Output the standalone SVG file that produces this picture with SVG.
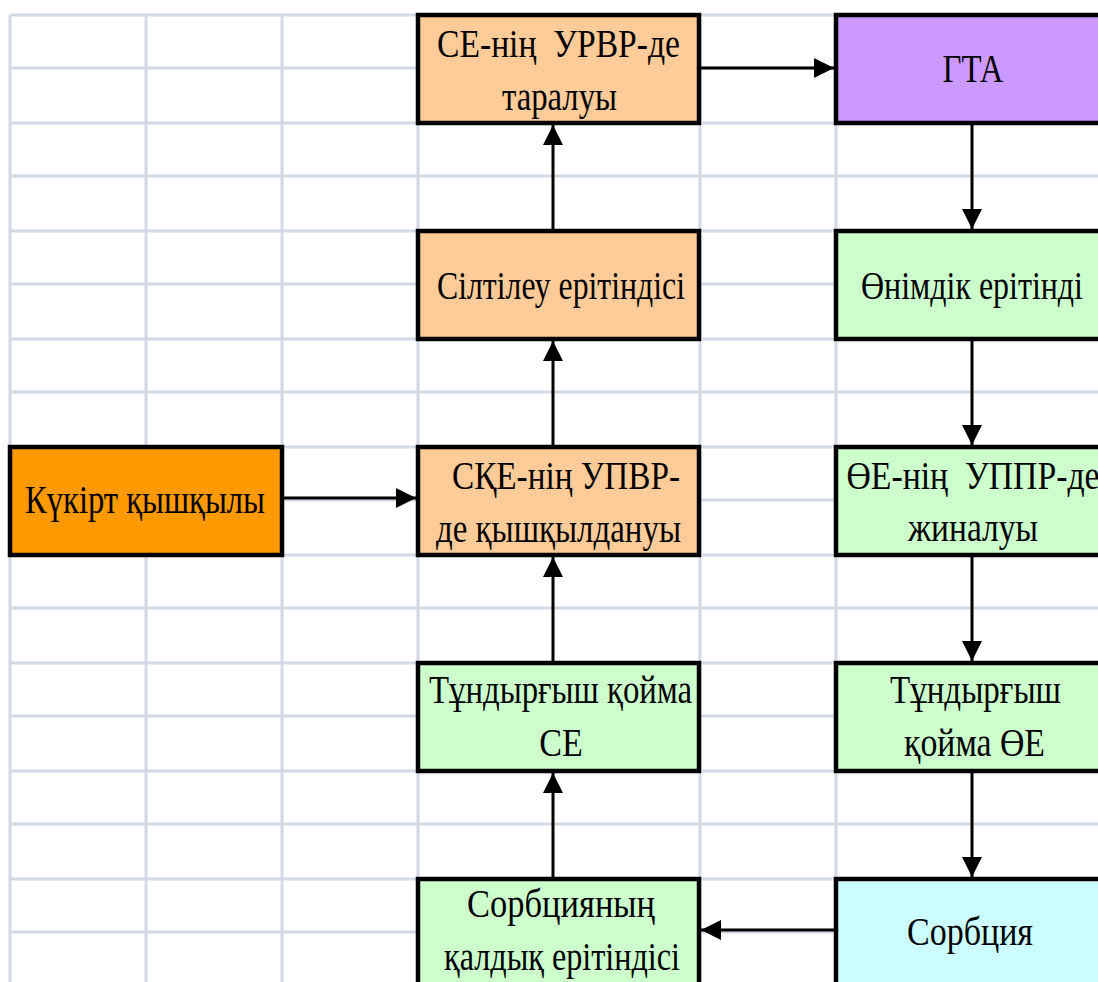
<svg xmlns="http://www.w3.org/2000/svg" width="1098" height="982" viewBox="0 0 1098 982">
<defs>
<style>
.grid{stroke:#D2D9E5;stroke-width:3;fill:none}
.box{stroke:#000;stroke-width:4.5}
.t{font-family:"Liberation Serif","Times New Roman",serif;font-size:39px;fill:#000;text-anchor:middle;white-space:pre}
.c{stroke:#000;stroke-width:3;fill:none}
</style>
<marker id="ah" viewBox="0 0 20 20" refX="20" refY="10" markerWidth="20" markerHeight="20" markerUnits="userSpaceOnUse" orient="auto">
<path d="M0,0 L20,10 L0,20 Z" fill="#000"/>
</marker>
</defs>
<rect x="0" y="0" width="1098" height="982" fill="#fff"/>
<g id="grid" class="grid">
<path d="M10,15V982M146,15V982M282,15V982M418,15V982M700,15V982M836,15V982"/>
<path d="M10,15H1098M10,68H1098M10,123H1098M10,176H1098M10,231H1098M10,284H1098M10,339H1098M10,392H1098M10,447H1098M10,500H1098M10,555H1098M10,608H1098M10,663H1098M10,716H1098M10,771H1098M10,824H1098M10,879H1098M10,932H1098"/>
</g>
<g id="connectors">
<path class="c" d="M699,68H834" marker-end="url(#ah)"/>
<path class="c" d="M282,498H416" marker-end="url(#ah)"/>
<path class="c" d="M836,930H701" marker-end="url(#ah)"/>
<path class="c" d="M553,231V125" marker-end="url(#ah)"/>
<path class="c" d="M553,447V341" marker-end="url(#ah)"/>
<path class="c" d="M553,663V557" marker-end="url(#ah)"/>
<path class="c" d="M553,879V773" marker-end="url(#ah)"/>
<path class="c" d="M972,123V229" marker-end="url(#ah)"/>
<path class="c" d="M972,339V445" marker-end="url(#ah)"/>
<path class="c" d="M972,555V661" marker-end="url(#ah)"/>
<path class="c" d="M972,771V877" marker-end="url(#ah)"/>
</g>
<g id="n-ce-urvr">
<rect class="box" x="418" y="15" width="281" height="108" fill="#FFCC99"/>
<text class="t" x="558.5" y="57" textLength="243" lengthAdjust="spacingAndGlyphs" xml:space="preserve">СЕ-нің  УРВР-де</text>
<text class="t" x="559.5" y="110" textLength="115" lengthAdjust="spacingAndGlyphs">таралуы</text>
</g>
<g id="n-gta">
<rect class="box" x="836" y="15" width="272" height="108" fill="#CC99FF"/>
<text class="t" x="973" y="82" textLength="61" lengthAdjust="spacingAndGlyphs">ГТА</text>
</g>
<g id="n-siltileu">
<rect class="box" x="418" y="231" width="281" height="108" fill="#FFCC99"/>
<text class="t" x="561" y="299" textLength="248" lengthAdjust="spacingAndGlyphs">Сілтілеу ерітіндісі</text>
</g>
<g id="n-onimdik">
<rect class="box" x="836" y="231" width="272" height="108" fill="#CCFFCC"/>
<text class="t" x="972" y="299" textLength="222" lengthAdjust="spacingAndGlyphs">Өнімдік ерітінді</text>
</g>
<g id="n-kukirt">
<rect class="box" x="10" y="447" width="272" height="108" fill="#FF9900"/>
<text class="t" x="145" y="513" textLength="240" lengthAdjust="spacingAndGlyphs">Күкірт қышқылы</text>
</g>
<g id="n-ske-upvr">
<rect class="box" x="418" y="447" width="281" height="108" fill="#FFCC99"/>
<text class="t" x="566" y="489" textLength="228" lengthAdjust="spacingAndGlyphs">СҚЕ-нің УПВР-</text>
<text class="t" x="558.5" y="542" textLength="245" lengthAdjust="spacingAndGlyphs">де қышқылдануы</text>
</g>
<g id="n-oe-uppr">
<rect class="box" x="836" y="447" width="272" height="108" fill="#CCFFCC"/>
<text class="t" x="973" y="489" textLength="253" lengthAdjust="spacingAndGlyphs" xml:space="preserve">ӨЕ-нің  УППР-де</text>
<text class="t" x="973" y="541" textLength="130" lengthAdjust="spacingAndGlyphs">жиналуы</text>
</g>
<g id="n-tundyr-ce">
<rect class="box" x="418" y="663" width="281" height="108" fill="#CCFFCC"/>
<text class="t" x="560.5" y="703" textLength="263" lengthAdjust="spacingAndGlyphs">Тұндырғыш қойма</text>
<text class="t" x="561" y="756" textLength="43.5" lengthAdjust="spacingAndGlyphs">СЕ</text>
</g>
<g id="n-tundyr-oe">
<rect class="box" x="836" y="663" width="272" height="108" fill="#CCFFCC"/>
<text class="t" x="975.5" y="703" textLength="171" lengthAdjust="spacingAndGlyphs">Тұндырғыш</text>
<text class="t" x="974.5" y="756" textLength="141" lengthAdjust="spacingAndGlyphs">қойма ӨЕ</text>
</g>
<g id="n-sorb-qaldyq">
<rect class="box" x="418" y="879" width="281" height="108" fill="#CCFFCC"/>
<text class="t" x="561" y="917" textLength="188" lengthAdjust="spacingAndGlyphs">Сорбцияның</text>
<text class="t" x="562" y="970" textLength="236" lengthAdjust="spacingAndGlyphs">қалдық ерітіндісі</text>
</g>
<g id="n-sorbtsiya">
<rect class="box" x="836" y="879" width="272" height="108" fill="#CCFFFF"/>
<text class="t" x="970" y="945" textLength="126" lengthAdjust="spacingAndGlyphs">Сорбция</text>
</g>
</svg>
